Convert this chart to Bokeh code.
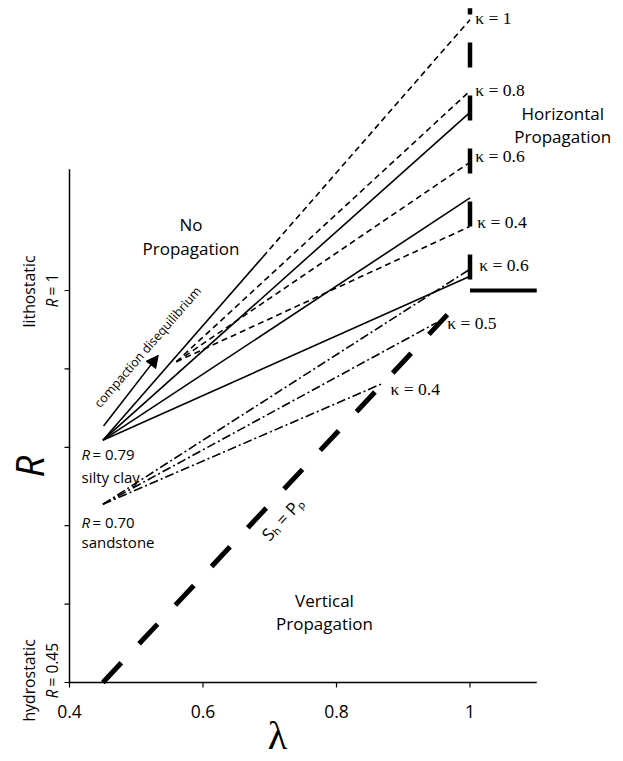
import math

from bokeh.plotting import figure
from bokeh.models import Range1d, Label, Arrow, NormalHead
from bokeh.core.properties import value
from bokeh.embed import file_html
from bokeh.resources import INLINE

# ---------------- values ----------------
LAM_TICKS = [0.4, 0.6, 0.8, 1.0]
LAM_TICK_LABELS = ["0.4", "0.6", "0.8", "1"]
R_TICKS = [0.45, 0.56, 0.67, 0.78, 0.89, 1.0]

LAM_START = 0.45            # hydrostatic λ where both lithologies start
R_SILTY_CLAY = 0.79
R_SANDSTONE = 0.70

# silty clay: solid paths reaching λ = 1
silty_solid_end_R = [1.25, 1.13, 1.02]

# silty clay κ = 1 path: solid up to the break, dashed beyond
kappa1_end_R = 1.38
kappa1_break_lam = 0.69

# dashed paths branching from the κ = 1 path
branch_lam = 0.56
branch_R = 0.90
dashed_kappa = [0.8, 0.6, 0.4]
dashed_end_R = [1.28, 1.18, 1.09]

# sandstone dash-dot paths
sand_kappa = [0.6, 0.5, 0.4]
sand_end_lam = [1.0, 0.95, 0.87]
sand_end_R = [1.03, 0.955, 0.87]

# S_h = P_p boundary
shpp_lam = [0.45, 0.97]
shpp_R = [0.45, 0.97]

# horizontal-propagation boundary
LAM_ONE = 1.0
R_TOP = 1.396
R_LITHO = 1.0
LAM_MIN = 0.4
R_MIN = 0.45
LAM_AXIS_END = 1.1
R_AXIS_END = 1.17

# compaction disequilibrium arrow
arrow_lam = [0.451, 0.533]
arrow_R = [0.81, 0.909]

SANS = "Open Sans"
SERIF = "Liberation Serif"
BLACK = "black"
THIN = 1.6

# ---------------- layout: pixels per data unit ----------------
PX_LAM = 667.5
PX_R = 712.7
W, H = 623, 761
AX_LEFT, AX_BOTTOM = 69, 79   # axis position in pixels from left / bottom

x_range = Range1d(LAM_MIN - AX_LEFT / PX_LAM, LAM_MIN + (W - AX_LEFT) / PX_LAM)
y_range = Range1d(R_MIN - AX_BOTTOM / PX_R, R_MIN + (H - AX_BOTTOM) / PX_R)

p = figure(width=W, height=H, x_range=x_range, y_range=y_range,
           output_backend="svg", toolbar_location=None,
           x_axis_location=None, y_axis_location=None,
           min_border=0)
p.outline_line_color = None
p.grid.visible = False
p.background_fill_color = "white"
p.border_fill_color = "white"

# ---------------- axes ----------------
TICK = 5  # px
p.segment(x0=[LAM_MIN], y0=[R_MIN], x1=[LAM_MIN], y1=[R_AXIS_END],
          line_color=BLACK, line_width=1.5)
p.segment(x0=[LAM_MIN], y0=[R_MIN], x1=[LAM_AXIS_END], y1=[R_MIN],
          line_color=BLACK, line_width=1.5)
p.segment(x0=[LAM_MIN - TICK / PX_LAM] * len(R_TICKS), y0=R_TICKS,
          x1=[LAM_MIN] * len(R_TICKS), y1=R_TICKS,
          line_color=BLACK, line_width=1.2)
p.segment(x0=LAM_TICKS, y0=[R_MIN] * len(LAM_TICKS),
          x1=LAM_TICKS, y1=[R_MIN - TICK / PX_R] * len(LAM_TICKS),
          line_color=BLACK, line_width=1.2)
p.text(x=LAM_TICKS, y=[R_MIN - 29 / PX_R] * len(LAM_TICKS),
       text=LAM_TICK_LABELS, text_font=value(SANS), text_font_size="17.5px",
       text_align="center", text_baseline="alphabetic", text_color=BLACK)


def interp_R(lam, lam_a, R_a, lam_b, R_b):
    return R_a + (lam - lam_a) * (R_b - R_a) / (lam_b - lam_a)


# silty clay κ = 1 path
R_break = interp_R(kappa1_break_lam, LAM_START, R_SILTY_CLAY, LAM_ONE, kappa1_end_R)
p.line([LAM_START, kappa1_break_lam], [R_SILTY_CLAY, R_break],
       line_color=BLACK, line_width=THIN)
p.line([kappa1_break_lam, LAM_ONE], [R_break, kappa1_end_R],
       line_color=BLACK, line_width=THIN, line_dash="6 4")

# silty clay solid paths
for r_end in silty_solid_end_R:
    p.line([LAM_START, LAM_ONE], [R_SILTY_CLAY, r_end],
           line_color=BLACK, line_width=THIN)

# dashed branches
for r_end in dashed_end_R:
    p.line([branch_lam, LAM_ONE], [branch_R, r_end],
           line_color=BLACK, line_width=THIN, line_dash="6 4")

# sandstone dash-dot paths
for l_end, r_end in zip(sand_end_lam, sand_end_R):
    p.line([LAM_START, l_end], [R_SANDSTONE, r_end],
           line_color=BLACK, line_width=THIN, line_dash="9 3 2 3")

# S_h = P_p
p.line(shpp_lam, shpp_R, line_color=BLACK, line_width=5,
       line_dash="27 26", line_cap="butt")

# λ = 1 boundary and lithostatic limit
p.line([LAM_ONE, LAM_ONE], [R_LITHO, R_TOP], line_color=BLACK, line_width=4.5,
       line_dash="25 28", line_dash_offset=42, line_cap="butt")
p.line([LAM_ONE, LAM_AXIS_END], [R_LITHO, R_LITHO], line_color=BLACK,
       line_width=4, line_cap="butt")

# compaction disequilibrium arrow
p.add_layout(Arrow(end=NormalHead(size=12, fill_color=BLACK, line_color=BLACK,
                                  line_width=1),
                   x_start=arrow_lam[0], y_start=arrow_R[0],
                   x_end=arrow_lam[1], y_end=arrow_R[1],
                   line_color=BLACK, line_width=THIN))

V = math.pi / 2


def lab(text, x, y, size, font=SANS, style="normal", align="left",
        baseline="alphabetic", angle=0.0, lift=None):
    # raise baseline-anchored text so the glyphs sit on the intended baseline
    if baseline == "alphabetic":
        d = 0.42 * size if lift is None else lift
        if angle == 0.0:
            y += d / PX_R
        elif angle == V:
            x -= d / PX_LAM
    p.add_layout(Label(x=x, y=y, text=text, text_font=font,
                       text_font_size=f"{size}px", text_font_style=style,
                       text_align=align, text_baseline=baseline,
                       text_color=BLACK, angle=angle))


# region names
lab("No", 0.582, 1.083, 17, align="center")
lab("Propagation", 0.582, 1.049, 17, align="center")
lab("Horizontal", 1.139, 1.239, 17, align="center")
lab("Propagation", 1.139, 1.206, 17, align="center")
lab("Vertical", 0.782, 0.555, 17, align="center")
lab("Propagation", 0.782, 0.523, 17, align="center")

# κ labels
for txt, x, y in [("κ = 1", 1.008, 1.372), ("κ = 0.8", 1.008, 1.271),
                  ("κ = 0.6", 1.008, 1.178), ("κ = 0.4", 1.011, 1.086),
                  ("κ = 0.6", 1.014, 1.025), ("κ = 0.5", 0.966, 0.944),
                  ("κ = 0.4", 0.881, 0.851)]:
    lab(txt, x, y, 17.5, font=SERIF)

# start-point labels
lab("R", 0.418, 0.7615, 15, style="italic")
lab("= 0.79", 0.4345, 0.7615, 15)
lab("silty clay", 0.418, 0.729, 15)
lab("R", 0.418, 0.666, 15, style="italic")
lab("= 0.70", 0.4345, 0.666, 15)
lab("sandstone", 0.418, 0.638, 15)

# rotated texts
lab("compaction disequilibrium", 0.517, 0.921, 12.5, align="center",
    baseline="middle", angle=math.radians(49))
lab("Sₕ = Pₚ", 0.719, 0.680, 17, align="center", baseline="middle",
    angle=math.radians(47))

# y-axis annotations
lab("lithostatic", 0.3491, 0.9986, 15.8, align="center", angle=V)
lab("R", 0.3835, 0.9762, 15.5, style="italic", angle=V)
lab("= 1", 0.3835, 0.993, 15.5, angle=V)
lab("hydrostatic", 0.3491, 0.4529, 15.8, align="center", angle=V)
lab("R", 0.3835, 0.4276, 15.5, style="italic", angle=V)
lab("= 0.45", 0.3835, 0.4444, 15.5, angle=V)

# axis titles
lab("R", 0.3626, 0.753, 38, style="italic", align="center", angle=V)
lab("λ", 0.7116, 0.3518, 40, font=SERIF, align="center")

open("out.html", "w").write(file_html(p, INLINE))
